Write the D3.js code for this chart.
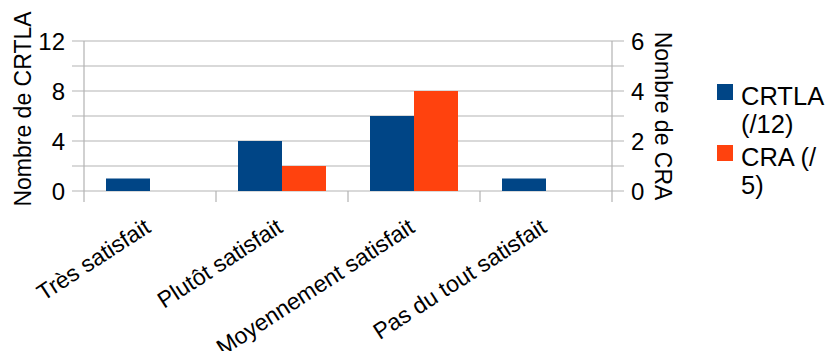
<!DOCTYPE html>
<html>
<head>
<meta charset="utf-8">
<script src="https://cdn.jsdelivr.net/npm/d3@7"></script>
<style>
  html, body { margin: 0; padding: 0; background: #fff; }
  svg { display: block; font-family: "Liberation Sans", Arial, sans-serif; }
</style>
</head>
<body>
<svg id="chart" width="829" height="351"></svg>
<script>
// Satisfaction survey: counts per answer for two groups
const categories = ["Très satisfait", "Plutôt satisfait", "Moyennement satisfait", "Pas du tout satisfait"];
const crtlaValues = [1, 4, 6, 1];   // left axis (/12)
const craValues = [0, 1, 4, 0];     // right axis (/5)
const leftTicks = [0, 4, 8, 12];
const rightTicks = [0, 2, 4, 6];
const seriesNames = ["CRTLA (/12)", "CRA (/5)"];
const legendLines = [["CRTLA", "(/12)"], ["CRA (/", "5)"]];

const colors = ["#004586", "#ff420e"];
const gridColor = "#b3b3b3";

const svg = d3.select("#chart");
const plot = { left: 84, right: 612, top: 41, bottom: 191 };

const x = d3.scaleBand().domain(categories).range([plot.left, plot.right]);
const yLeft = d3.scaleLinear().domain([0, 12]).range([plot.bottom, plot.top]);
const yRight = d3.scaleLinear().domain([0, 6]).range([plot.bottom, plot.top]);
const inner = d3.scaleBand().domain([0, 1]).range([0, x.bandwidth()]).paddingOuter(0.5).paddingInner(0);

// horizontal grid lines every 2 units on the left scale, extending slightly beyond the frame
const gridVals = d3.range(0, 13, 2);
svg.append("g").selectAll("line").data(gridVals).join("line")
  .attr("x1", plot.left - 12).attr("x2", plot.right + 12)
  .attr("y1", d => yLeft(d)).attr("y2", d => yLeft(d))
  .attr("stroke", gridColor).attr("stroke-width", 1.2);

// vertical frame lines
[plot.left, plot.right].forEach(px => {
  svg.append("line").attr("x1", px).attr("x2", px)
    .attr("y1", plot.top).attr("y2", plot.bottom + 11)
    .attr("stroke", gridColor).attr("stroke-width", 1.2);
});

// category boundary ticks
svg.append("g").selectAll("line").data(categories.slice(1)).join("line")
  .attr("x1", d => x(d)).attr("x2", d => x(d))
  .attr("y1", plot.bottom).attr("y2", plot.bottom + 11)
  .attr("stroke", gridColor).attr("stroke-width", 1.2);

// bars
const bars = svg.append("g");
bars.selectAll("rect.crtla").data(crtlaValues).join("rect")
  .attr("class", "crtla")
  .attr("x", (d, i) => x(categories[i]) + inner(0))
  .attr("width", inner.bandwidth())
  .attr("y", d => yLeft(d))
  .attr("height", d => plot.bottom - yLeft(d))
  .attr("fill", colors[0]);
bars.selectAll("rect.cra").data(craValues).join("rect")
  .attr("class", "cra")
  .attr("x", (d, i) => x(categories[i]) + inner(1))
  .attr("width", inner.bandwidth())
  .attr("y", d => yRight(d))
  .attr("height", d => plot.bottom - yRight(d))
  .attr("fill", colors[1]);

// left tick labels
svg.append("g").selectAll("text").data(leftTicks).join("text")
  .attr("x", plot.left - 19).attr("y", d => yLeft(d))
  .attr("dy", "0.36em").attr("text-anchor", "end")
  .attr("font-size", 24).attr("fill", "#000")
  .text(d => d);

// right tick labels
svg.append("g").selectAll("text").data(rightTicks).join("text")
  .attr("x", plot.right + 19).attr("y", d => yRight(d))
  .attr("dy", "0.36em").attr("text-anchor", "start")
  .attr("font-size", 24).attr("fill", "#000")
  .text(d => d);

// axis titles
svg.append("text")
  .attr("transform", `translate(31,${(plot.top + plot.bottom) / 2 - 7}) rotate(-90)`)
  .attr("text-anchor", "middle").attr("font-size", 23)
  .text("Nombre de CRTLA");
svg.append("text")
  .attr("transform", `translate(655,${(plot.top + plot.bottom) / 2}) rotate(90)`)
  .attr("text-anchor", "middle").attr("font-size", 23)
  .text("Nombre de CRA");

// rotated category labels
svg.append("g").selectAll("text").data(categories).join("text")
  .attr("transform", d => `translate(${x(d) + x.bandwidth() / 2 + 2},${plot.bottom + 40}) rotate(-33)`)
  .attr("text-anchor", "end").attr("font-size", 23)
  .text(d => d);

// legend
const legend = svg.append("g");
const legendRows = [84, 145];
legendLines.forEach((lines, i) => {
  legend.append("rect")
    .attr("x", 717).attr("y", legendRows[i])
    .attr("width", 16).attr("height", 16)
    .attr("fill", colors[i]);
  const t = legend.append("text").attr("font-size", 25.5);
  lines.forEach((ln, j) => {
    t.append("tspan").attr("x", 741).attr("y", legendRows[i] + 21 + j * 28).text(ln);
  });
});
</script>
</body>
</html>
